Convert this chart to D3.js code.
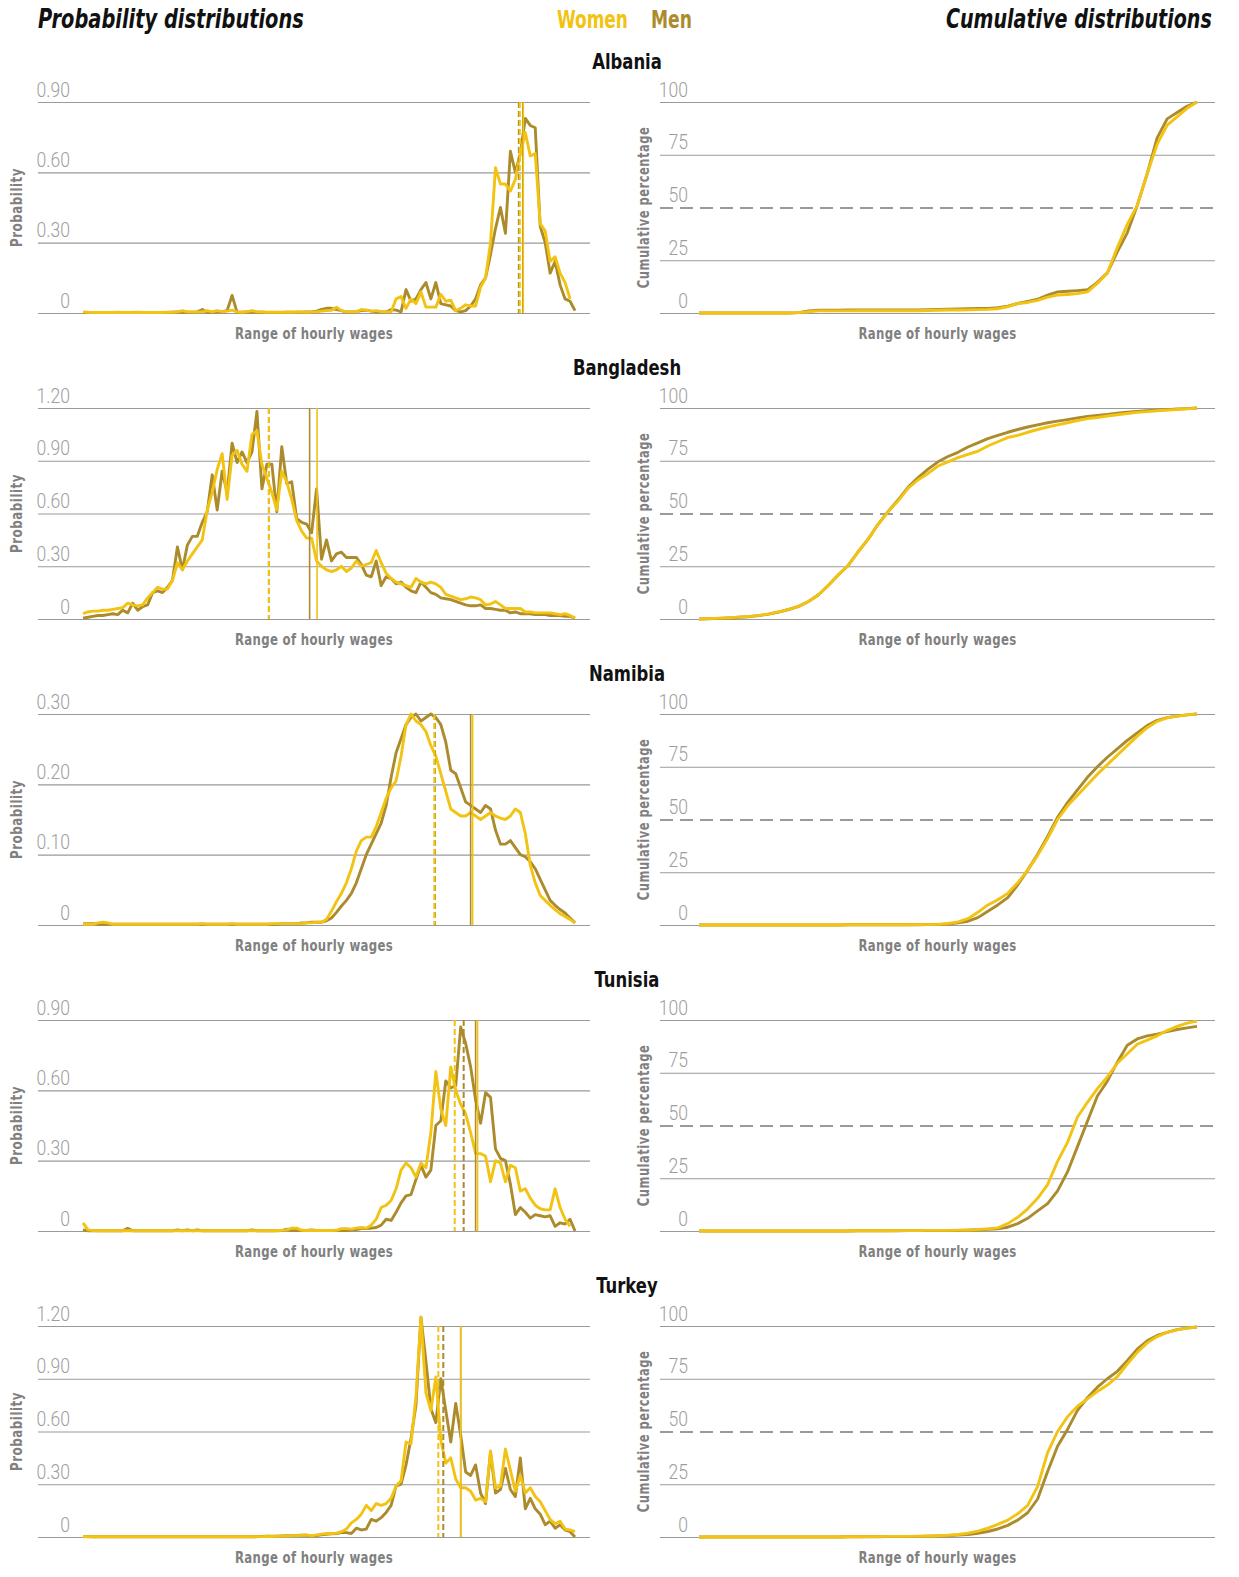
<!DOCTYPE html>
<html><head><meta charset="utf-8">
<script src="https://cdn.jsdelivr.net/npm/d3@7"></script>
<style>
body{margin:0;background:#fff;}
svg{display:block;font-family:"Liberation Sans Narrow","DejaVu Sans Condensed","Roboto",sans-serif;}
.tk{font-family:"Roboto","Lato",sans-serif;font-weight:300;}
</style></head><body>
<svg id="chart" width="1239" height="1577"></svg>
<script>
// ---------- DATA ----------
const countries = ["Albania","Bangladesh","Namibia","Tunisia","Turkey"];
const seriesNames = ["Women","Men"];
const probMax = [0.9, 1.2, 0.3, 0.9, 1.2];
const probTicks = [[0,0.3,0.6,0.9],[0,0.3,0.6,0.9,1.2],[0,0.1,0.2,0.3],[0,0.3,0.6,0.9],[0,0.3,0.6,0.9,1.2]];
const cumTicks = [0,25,50,75,100];

// probability distributions (100 wage bins)
const albaniaWomen = [
.005,.003,.002,.002,.002,.002,.002,.003,.002,.002,
.002,.003,.002,.002,.002,.002,.002,.003,.003,.005,
.010,.005,.004,.005,.005,.010,.005,.010,.006,.008,
.012,.005,.003,.006,.010,.005,.004,.003,.003,.003,
.003,.003,.003,.004,.004,.003,.005,.005,.008,.010,
.012,.025,.010,.005,.005,.005,.015,.012,.008,.010,
.006,.005,.005,.060,.070,.020,.060,.040,.090,.025,
.025,.025,.080,.050,.055,.010,.020,.035,.030,.030,
.110,.150,.300,.620,.550,.550,.520,.570,.680,.770,
.670,.680,.380,.350,.220,.240,.170,.130,.060,null];
const albaniaMen = [
.002,.002,.002,.002,.002,.002,.002,.002,.002,.002,
.002,.002,.002,.002,.002,.002,.002,.002,.003,.004,
.004,.003,.003,.005,.015,.003,.003,.005,.006,.010,
.075,.003,.003,.004,.005,.003,.003,.002,.002,.002,
.002,.003,.003,.003,.003,.004,.005,.008,.015,.020,
.020,.015,.010,.004,.004,.006,.010,.012,.008,.005,
.005,.004,.015,.012,.005,.100,.050,.060,.100,.130,
.060,.130,.040,.035,.030,.010,.005,.010,.030,.060,
.120,.150,.250,.360,.450,.340,.690,.600,.680,.830,
.800,.790,.370,.300,.170,.220,.120,.060,.050,.010];
const bangladeshWomen = [
.03,.04,.045,.045,.05,.05,.055,.06,.065,.09,
.08,.075,.08,.12,.15,.18,.17,.17,.22,.32,
.28,.33,.37,.41,.45,.62,.72,.85,.94,.68,
.93,.96,.88,.84,1.05,1.07,.88,.80,.72,.62,
.84,.78,.68,.56,.50,.46,.46,.33,.30,.28,
.27,.28,.30,.27,.29,.33,.30,.31,.32,.39,
.32,.26,.23,.21,.20,.19,.18,.23,.21,.20,
.21,.20,.18,.14,.13,.12,.11,.115,.125,.12,
.11,.08,.085,.10,.08,.06,.06,.06,.06,.04,
.04,.035,.035,.035,.035,.03,.025,.03,.02,.005];
const bangladeshMen = [
.005,.01,.015,.02,.02,.025,.03,.025,.05,.035,
.09,.05,.07,.08,.15,.16,.15,.18,.22,.41,
.28,.42,.47,.47,.55,.61,.82,.62,.84,.72,
1.0,.89,.95,.89,.95,1.18,.74,.88,.88,.61,
.98,.77,.78,.57,.55,.54,.49,.74,.34,.45,
.33,.37,.38,.35,.35,.35,.31,.25,.24,.33,
.19,.24,.23,.20,.21,.18,.16,.15,.21,.18,
.15,.14,.12,.115,.11,.10,.09,.08,.075,.075,
.08,.06,.06,.055,.05,.05,.035,.04,.03,.03,
.03,.025,.025,.025,.02,.02,.02,.015,.015,.005];
const namibiaWomen = [
.001,.001,.001,.003,.004,.003,.001,.001,.001,.001,
.001,.001,.001,.001,.001,.001,.001,.001,.001,.001,
.001,.001,.001,.001,.002,.001,.001,.001,.001,.001,
.002,.001,.001,.001,.001,.001,.001,.001,.002,.002,
.002,.002,.002,.002,.002,.003,.003,.004,.004,.008,
.02,.033,.045,.06,.08,.105,.12,.125,.125,.14,
.16,.18,.195,.205,.24,.285,.30,.29,.285,.275,
.255,.24,.215,.19,.165,.16,.155,.155,.16,.155,
.15,.155,.16,.155,.152,.15,.155,.165,.16,.13,
.085,.06,.042,.035,.028,.022,.016,.012,.008,.003];
const namibiaMen = [
.002,.002,.002,.001,.001,.001,.001,.001,.001,.001,
.001,.001,.001,.001,.001,.001,.001,.001,.001,.001,
.001,.001,.001,.001,.001,.001,.001,.001,.001,.001,
.001,.001,.001,.001,.001,.001,.001,.001,.001,.001,
.002,.002,.002,.002,.003,.003,.004,.004,.004,.006,
.01,.018,.027,.035,.045,.06,.08,.10,.115,.13,
.145,.17,.21,.245,.265,.285,.295,.30,.29,.295,
.30,.295,.285,.26,.22,.215,.195,.175,.17,.165,
.16,.17,.165,.135,.115,.115,.12,.11,.10,.097,
.09,.08,.065,.05,.035,.028,.022,.017,.01,.003];
const tunisiaWomen = [
.035,.005,.002,.001,.001,.001,.001,.001,.001,.001,
.001,.001,.001,.001,.001,.001,.001,.001,.001,.001,
.001,.001,.001,.001,.001,.001,.001,.001,.001,.001,
.001,.001,.001,.001,.001,.001,.001,.001,.001,.002,
.003,.005,.012,.012,.003,.002,.002,.002,.002,.002,
.002,.003,.01,.01,.008,.012,.015,.012,.025,.05,
.10,.11,.13,.18,.26,.29,.27,.23,.29,.27,
.42,.68,.52,.45,.70,.60,.54,.50,.42,.33,
.33,.32,.21,.30,.29,.21,.28,.27,.17,.18,
.14,.11,.095,.09,.09,.18,.10,.05,.02,null];
const tunisiaMen = [
.005,.001,.001,.001,.001,.001,.001,.001,.001,.012,
.001,.001,.001,.001,.001,.001,.001,.001,.001,.005,
.001,.005,.001,.005,.001,.001,.001,.001,.001,.001,
.001,.001,.001,.001,.005,.001,.001,.001,.001,.001,
.002,.008,.002,.002,.002,.002,.005,.002,.002,.002,
.002,.002,.002,.002,.005,.006,.01,.01,.012,.015,
.025,.05,.045,.08,.12,.15,.155,.22,.28,.23,
.26,.45,.47,.64,.61,.62,.87,.80,.70,.56,
.46,.59,.57,.35,.31,.30,.20,.07,.10,.08,
.055,.07,.065,.06,.065,.02,.035,.03,.05,.0];
const turkeyWomen = [
.001,.001,.001,.001,.001,.001,.001,.001,.001,.001,
.001,.001,.001,.001,.001,.001,.001,.001,.001,.001,
.001,.001,.001,.001,.001,.001,.001,.001,.001,.001,
.001,.001,.001,.001,.001,.001,.002,.004,.003,.004,
.005,.006,.007,.008,.01,.012,.006,.012,.016,.02,
.02,.022,.03,.045,.08,.10,.13,.18,.15,.19,
.18,.19,.22,.29,.32,.54,.53,.80,1.25,.82,
.72,.91,.55,.42,.45,.33,.28,.28,.26,.21,
.22,.20,.49,.28,.29,.50,.38,.26,.35,.25,
.28,.23,.20,.15,.10,.075,.09,.045,.04,.03];
const turkeyMen = [
.002,.002,.001,.001,.001,.001,.001,.001,.001,.001,
.001,.001,.001,.001,.001,.001,.001,.001,.001,.001,
.001,.001,.001,.001,.001,.001,.001,.001,.001,.001,
.001,.001,.001,.001,.001,.002,.003,.004,.004,.005,
.006,.007,.008,.009,.01,.01,.005,.008,.012,.015,
.018,.02,.025,.025,.02,.05,.04,.045,.10,.09,
.11,.14,.18,.29,.30,.41,.56,.75,1.25,1.0,
.73,.65,.90,.72,.54,.76,.58,.37,.35,.41,
.25,.19,.48,.25,.27,.39,.27,.23,.45,.16,
.22,.16,.13,.07,.09,.05,.07,.04,.03,.0];

// cumulative distributions (51 points, %)
const albaniaCumWomen = [0,0,0,0,0,0,0,0,0,0,.2,.6,1,1,1,1,1.05,1.1,1.1,1.1,1.1,1.1,1.1,1.2,1.3,1.4,1.4,1.5,1.6,1.7,2,3,4.5,5,6,7.5,8.5,8.8,9.2,10,14,19,31,42,51,66,80,89,93,97,100];
const albaniaCumMen = [0,0,0,0,0,0,0,0,0,0,.2,1,1.3,1.3,1.35,1.4,1.4,1.45,1.5,1.5,1.5,1.5,1.5,1.6,1.7,1.8,1.9,2,2.1,2.2,2.5,3.2,4.5,5.5,6.5,8.5,10,10.3,10.6,11,14.5,19,29,38,51,66,83,92,95,98,100];
const bangladeshCumWomen = [0,.2,.4,.6,.9,1.2,1.7,2.4,3.4,4.6,6,8.3,11.5,16,21,25.5,32,38,45,51,56,62,66,69,72.5,74.5,76.5,78,79.5,82,84,86,87,88.5,89.8,91,92,93,94,95,95.5,96.2,96.8,97.4,97.9,98.3,98.7,99,99.3,99.6,100];
const bangladeshCumMen = [0,.15,.3,.5,.8,1.1,1.6,2.3,3.3,4.5,6,8.3,11.5,16,21,25.5,32,38,45,51,56.5,62.5,67,71,74.5,77,79,81.5,83.5,85.5,87,88.5,89.8,91,92,93,93.8,94.5,95.3,96,96.5,97,97.5,98,98.4,98.7,99,99.2,99.5,99.7,100];
const namibiaCumWomen = [0,0,0,0,0,0,0,0,0,0,0,0,0,0,0,.1,.1,.1,.1,.1,.1,.1,.2,.2,.3,.7,1.5,3,6,9.5,12,15,20,26,33,41,50,56.5,61.5,66.5,71.5,76,80.5,85,89.5,93.5,96.5,98.2,99,99.6,100];
const namibiaCumMen = [0,0,0,0,0,0,0,0,0,0,0,0,0,0,0,.1,.1,.1,.1,.1,.1,.1,.1,.2,.2,.5,1,1.8,3.5,6.5,9.5,13,19,26,33.5,42,51,58,64,70,75,79.5,83.5,87.5,91,94.5,97,98.3,99,99.6,100];
const tunisiaCumWomen = [0,0,0,0,0,0,0,0,0,0,0,0,0,0,0,0,.1,.1,.1,.1,.2,.2,.2,.3,.3,.3,.4,.5,.7,1,1.5,3.5,6.5,10.5,15.5,22,33,42,54,61,67.5,73,79.5,84,88.5,90.5,92.5,95,97,98.5,99.5];
const tunisiaCumMen = [0,0,0,0,0,0,0,0,0,0,0,0,0,0,0,0,.1,.1,.1,.1,.1,.2,.2,.2,.3,.3,.3,.4,.6,.8,1,1.8,3.5,6,9.5,13,19,28,40,52,64,71,80,88,91,92.5,93.3,94.5,95.5,96.3,97];
const turkeyCumWomen = [0,0,0,0,0,0,0,0,0,0,0,0,0,0,0,.1,.1,.2,.2,.3,.3,.3,.4,.5,.6,.8,1.2,1.8,2.8,4.2,6,8,11,15,24,40,50,57,62,65.5,69,72,76,82,87.5,92,95,97,98.2,99,99.5];
const turkeyCumMen = [0,0,0,0,0,0,0,0,0,0,0,0,0,0,0,.1,.1,.1,.1,.2,.2,.2,.3,.4,.5,.6,.9,1.2,1.8,2.6,3.8,5.5,8,11.5,18,31,43,51,60,66,71,75,78.5,83.5,89,93,95.5,97,98.3,99,99.5];

// medians (dashed) and means (solid), in wage-bin units
const medianWomen = [87.9, 37.4, 70.7, 74.8, 71.5];
const medianMen   = [87.7, 37.4, 70.8, 76.6, 72.5];
const meanWomen   = [88.6, 47.1, 78.4, 79.4, 76.0];
const meanMen     = [88.5, 45.6, 78.0, 79.0, 76.0];

const probWomen = [albaniaWomen, bangladeshWomen, namibiaWomen, tunisiaWomen, turkeyWomen];
const probMen = [albaniaMen, bangladeshMen, namibiaMen, tunisiaMen, turkeyMen];
const cumWomen = [albaniaCumWomen, bangladeshCumWomen, namibiaCumWomen, tunisiaCumWomen, turkeyCumWomen];
const cumMen = [albaniaCumMen, bangladeshCumMen, namibiaCumMen, tunisiaCumMen, turkeyCumMen];

// ---------- STYLE ----------
const WOMEN = "#f2c313", MEN = "#ab8b2c";
const GRID = "#9a9a9a", TICK = "#9d9d9d", AXIS = "#808080";

const svg = d3.select("#chart");

// condense text horizontally (the original uses a narrow typeface)
function squeeze(sel, f) {
  sel.each(function () {
    const w = this.getComputedTextLength();
    d3.select(this).attr("textLength", w * f).attr("lengthAdjust", "spacingAndGlyphs");
  });
}
// header text: condensed by a horizontal scale so that it spans exactly `w` pixels
function header(x, y, size, txt, fill, w, italic) {
  const t = svg.append("text").attr("x", 0).attr("y", 0).attr("font-size", size)
    .attr("font-weight", 700).attr("font-style", italic ? "italic" : null).attr("fill", fill).text(txt);
  const nat = t.node().getComputedTextLength();
  t.attr("transform", `translate(${x},${y}) scale(${w / nat},1)`);
}

header(38, 28, 26, "Probability distributions", "#111", 266, true);
header(946, 28, 26, "Cumulative distributions", "#111", 266, true);
header(557, 28, 25, seriesNames[0], WOMEN, 71, false);
header(651, 28, 25, seriesNames[1], MEN, 41, false);

const ROW = 306;
const P = {gx0: 38, gx1: 590, dx0: 83, dx1: 575};
const C = {gx0: 660, gx1: 1215, dx0: 699, dx1: 1197};
const TOP = 102, BOT = 313;

countries.forEach((name, i) => {
  const off = i * ROW;
  const g = svg.append("g");
  squeeze(g.append("text").attr("x", 627).attr("y", 69 + off).attr("text-anchor", "middle")
    .attr("font-size", 21).attr("font-weight", 700).attr("fill", "#111").text(name), 0.87);

  // ---- probability panel ----
  const xP = d3.scaleLinear().domain([0, 99]).range([P.dx0, P.dx1]);
  const yP = d3.scaleLinear().domain([0, probMax[i]]).range([BOT + off, TOP + off]);
  const axP = g.append("g").attr("transform", `translate(${P.gx0},0)`)
    .call(d3.axisLeft(yP).tickValues(probTicks[i]).tickSize(-(P.gx1 - P.gx0))
      .tickFormat(d => d === 0 ? "0" : d3.format(".2f")(d)));
  axP.select(".domain").remove();
  axP.attr("font-family", null).attr("font-size", null);
  axP.selectAll(".tick line").attr("stroke", GRID).attr("stroke-width", 1.2);
  const tP = axP.selectAll(".tick text").attr("class", "tk").attr("x", 32).attr("dy", -6)
    .attr("text-anchor", "end").attr("fill", TICK).attr("font-size", 19.5);
  squeeze(tP, 0.9);

  const lineP = d3.line().defined(d => d != null).x((d, j) => xP(j)).y(d => yP(d));
  g.append("path").datum(probMen[i]).attr("d", lineP).attr("fill", "none")
    .attr("stroke", MEN).attr("stroke-width", 2.9).attr("stroke-linejoin", "round");
  g.append("path").datum(probWomen[i]).attr("d", lineP).attr("fill", "none")
    .attr("stroke", WOMEN).attr("stroke-width", 2.9).attr("stroke-linejoin", "round");

  const vline = (v, col, dashed) => g.append("line")
    .attr("x1", xP(v)).attr("x2", xP(v)).attr("y1", TOP + off).attr("y2", BOT + off)
    .attr("stroke", col).attr("stroke-width", dashed ? 2 : 1.6)
    .attr("stroke-dasharray", dashed ? "6,3" : null);
  vline(meanMen[i], MEN, false);
  vline(meanWomen[i], WOMEN, false);
  vline(medianMen[i], MEN, true);
  vline(medianWomen[i], WOMEN, true);

  squeeze(g.append("text").attr("transform", `translate(22,${(TOP + BOT) / 2 + off}) rotate(-90)`)
    .attr("text-anchor", "middle").attr("font-size", 15).attr("font-weight", 700)
    .attr("fill", AXIS).attr("letter-spacing", 0.6).text("Probability"), 0.88);
  squeeze(g.append("text").attr("x", (P.gx0 + P.gx1) / 2).attr("y", 339 + off).attr("text-anchor", "middle")
    .attr("font-size", 15.5).attr("font-weight", 700).attr("fill", AXIS).attr("letter-spacing", 0.4)
    .text("Range of hourly wages"), 0.84);

  // ---- cumulative panel ----
  const xC = d3.scaleLinear().domain([0, 50]).range([C.dx0, C.dx1]);
  const yC = d3.scaleLinear().domain([0, 100]).range([BOT + off, TOP + off]);
  const axC = g.append("g").attr("transform", `translate(${C.gx0},0)`)
    .call(d3.axisLeft(yC).tickValues(cumTicks).tickSize(-(C.gx1 - C.gx0)).tickFormat(d3.format("d")));
  axC.select(".domain").remove();
  axC.attr("font-family", null).attr("font-size", null);
  axC.selectAll(".tick line").attr("stroke", GRID).attr("stroke-width", 1.2)
    .filter(d => d === 50).attr("stroke-width", 2.2).attr("stroke-dasharray", "13,7");
  const tC = axC.selectAll(".tick text").attr("class", "tk").attr("x", 28).attr("dy", -6)
    .attr("text-anchor", "end").attr("fill", TICK).attr("font-size", 19.5);
  squeeze(tC, 0.9);

  const lineC = d3.line().x((d, j) => xC(j)).y(d => yC(d));
  g.append("path").datum(cumMen[i]).attr("d", lineC).attr("fill", "none")
    .attr("stroke", MEN).attr("stroke-width", 2.9).attr("stroke-linejoin", "round");
  g.append("path").datum(cumWomen[i]).attr("d", lineC).attr("fill", "none")
    .attr("stroke", WOMEN).attr("stroke-width", 2.9).attr("stroke-linejoin", "round");

  squeeze(g.append("text").attr("transform", `translate(649,${(TOP + BOT) / 2 + off}) rotate(-90)`)
    .attr("text-anchor", "middle").attr("font-size", 15).attr("font-weight", 700)
    .attr("fill", AXIS).attr("letter-spacing", 0.6).text("Cumulative percentage"), 0.85);
  squeeze(g.append("text").attr("x", (C.gx0 + C.gx1) / 2).attr("y", 339 + off).attr("text-anchor", "middle")
    .attr("font-size", 15.5).attr("font-weight", 700).attr("fill", AXIS).attr("letter-spacing", 0.4)
    .text("Range of hourly wages"), 0.84);
});
</script></body></html>
